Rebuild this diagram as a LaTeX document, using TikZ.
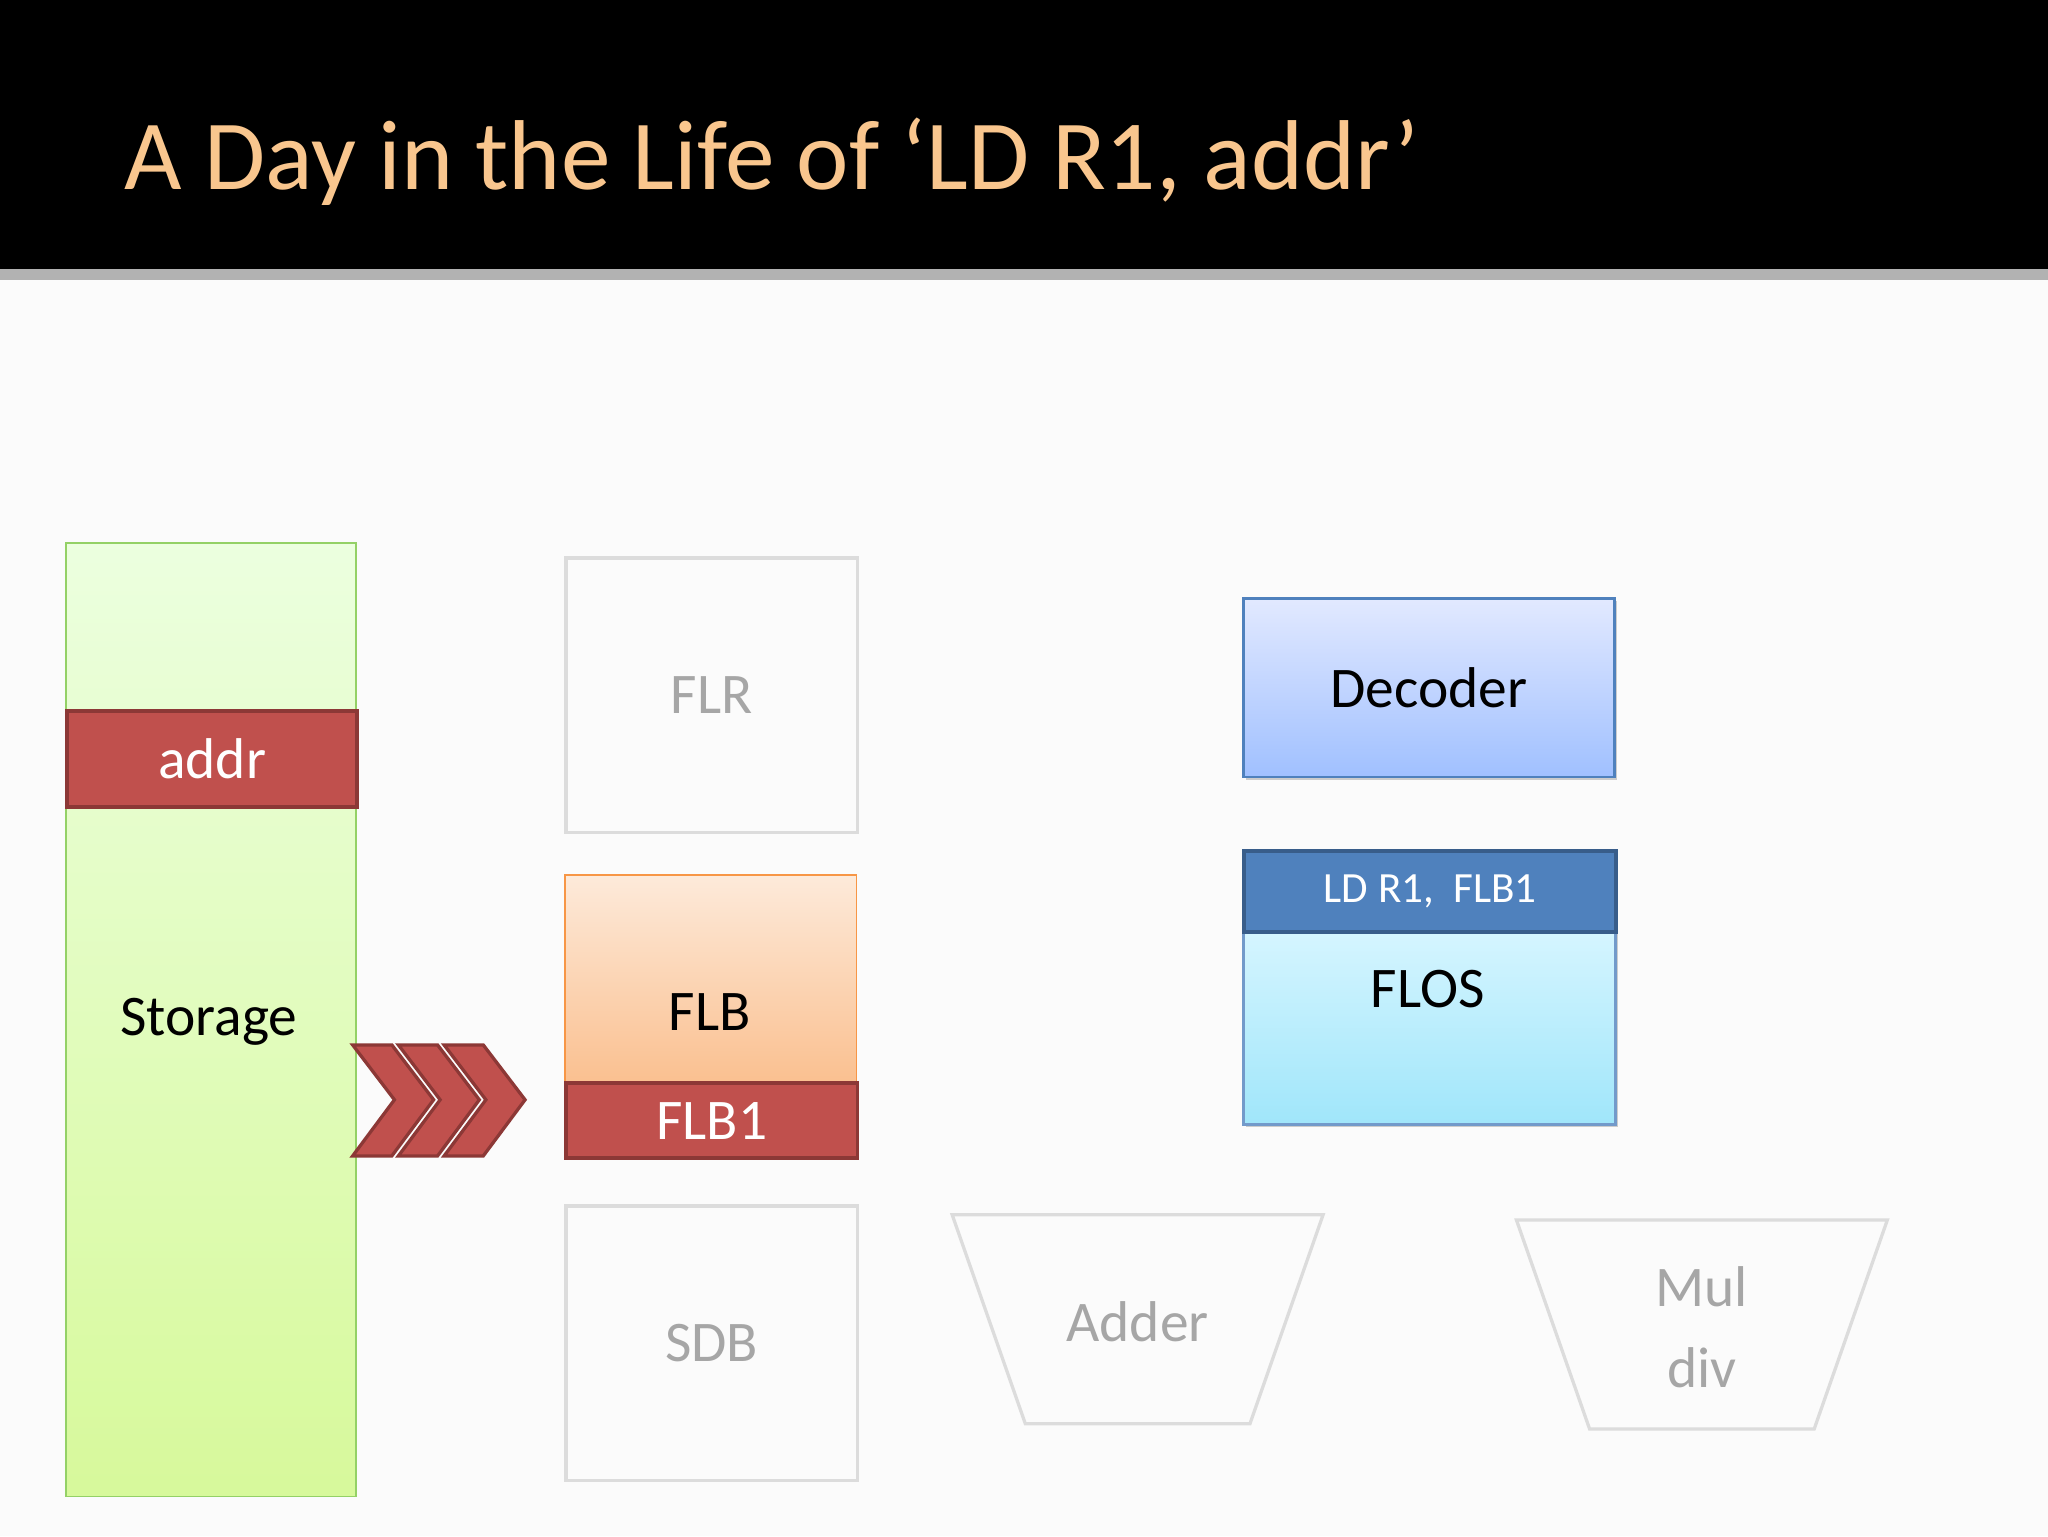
\documentclass[tikz,border=0pt]{standalone}
\usepackage{fontspec}
\setmainfont{Carlito}
\usetikzlibrary{positioning}
\definecolor{titleor}{HTML}{F9C68E}
\definecolor{redf}{HTML}{C0504D}
\definecolor{redd}{HTML}{8C3836}
\definecolor{ghost}{HTML}{DCDCDC}
\definecolor{ghosttxt}{HTML}{A6A6A6}
\definecolor{blued}{HTML}{4F81BD}
\tikzset{
  box/.style={draw, line width=2pt, inner sep=0pt, anchor=north west},
  ghostbox/.style={box, draw=ghost, line width=2.5pt, text=ghosttxt},
  redbox/.style={box, fill=redf, draw=redd, line width=3pt, text=white},
  chev/.style={fill=redf, draw=redd, line width=2.5pt, line join=miter},
  lbl/.style={font=\fontsize{44}{48}\selectfont},
}
\begin{document}
\begin{tikzpicture}[x=1pt,y=-1pt]
\useasboundingbox (0,0) rectangle (1568,1176);
\fill[white!97!gray] (0,0) rectangle (1568,1176);
\fill[black] (0,0) rectangle (1568,206);
\fill[gray!60] (0,206) rectangle (1568,214);
\node[anchor=base west, text=titleor, font=\fontsize{76}{80}\selectfont, inner sep=0] (title) at (95,145) {A Day in the Life of ‘LD R1, addr’};
% storage
\node[box, draw=green!40!olive!60, line width=1.5pt, top color=green!8!white!95!yellow, bottom color={rgb,255:red,215;green,249;blue,155}, minimum width=222pt, minimum height=730pt] (stor) at (50,415) {};
\node[lbl, text=black] (storl) at (160,782) {Storage};
\node[redbox, lbl, minimum width=222pt, minimum height=73pt] (addr) at (50,543) {addr};
% chevrons
\foreach \d in {0,35,70}{
  \filldraw[chev] (270+\d,800) -- (300+\d,800) -- (332+\d,842) -- (300+\d,885) -- (270+\d,885) -- (302+\d,842) -- cycle;
}
% FLR, FLB, SDB
\node[ghostbox, lbl, minimum width=223pt, minimum height=210pt] (flr) at (432,426) {FLR};
\node[box, draw={rgb,255:red,247;green,150;blue,70}, line width=1.5pt, top color={rgb,255:red,253;green,234;blue,218}, bottom color={rgb,255:red,250;green,192;blue,144}, minimum width=223pt, minimum height=159pt] (flb) at (432,669) {};
\node[lbl] (flbl) at (543.5,775) {FLB};
\node[redbox, lbl, minimum width=223pt, minimum height=57pt] (flb1) at (432,828) {FLB1};
\node[ghostbox, lbl, minimum width=223pt, minimum height=210pt] (sdb) at (432,922) {SDB};
% adder, muldiv
\draw[ghost, line width=2.5pt] (729,930) -- (1013,930) -- (957,1090) -- (785,1090) -- cycle;
\node[lbl, text=ghosttxt] (adder) at (871,1012) {Adder};
\draw[ghost, line width=2.5pt] (1161,934) -- (1445,934) -- (1389,1094) -- (1217,1094) -- cycle;
\node[lbl, text=ghosttxt, align=center, font=\fontsize{44}{62}\selectfont] (mul) at (1303,1016) {Mul\\div};
% decoder
\fill[gray!40] (954,460) rectangle (1238,597);
\node[box, draw=blued, top color={rgb,255:red,226;green,233;blue,255}, bottom color={rgb,255:red,160;green,192;blue,255}, lbl, minimum width=284pt, minimum height=137pt] (dec) at (951,457) {Decoder};
% FLOS
\fill[gray!40] (954,653) rectangle (1239,863);
\node[box, draw=blued!80, top color={rgb,255:red,213;green,245;blue,255}, bottom color={rgb,255:red,160;green,230;blue,250}, minimum width=285pt, minimum height=148pt] (flos) at (951,712) {};
\node[lbl] (flosl) at (1093,757) {FLOS};
\node[box, fill=blued, draw={rgb,255:red,56;green,93;blue,138}, line width=3pt, text=white, font=\fontsize{33}{36}\selectfont, minimum width=285pt, minimum height=62pt] (ld) at (951,650) {LD R1,\ \ FLB1};
\end{tikzpicture}
\end{document}
